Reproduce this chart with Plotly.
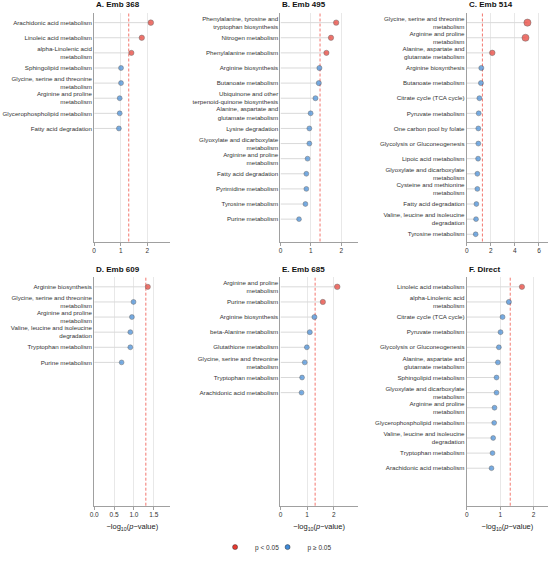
import textwrap
import plotly.graph_objects as go

# -log10(p) threshold for p = 0.05
THRESH = 1.3

a_title = "A. Emb 368"
a_names = ["Arachidonic acid metabolism", "Linoleic acid metabolism",
           "alpha-Linolenic acid metabolism", "Sphingolipid metabolism",
           "Glycine, serine and threonine metabolism", "Arginine and proline metabolism",
           "Glycerophospholipid metabolism", "Fatty acid degradation"]
a_vals = [2.13, 1.79, 1.40, 1.01, 1.01, 0.96, 0.96, 0.93]

b_title = "B. Emb 495"
b_names = ["Phenylalanine, tyrosine and tryptophan biosynthesis", "Nitrogen metabolism",
           "Phenylalanine metabolism", "Arginine biosynthesis", "Butanoate metabolism",
           "Ubiquinone and other terpenoid-quinone biosynthesis",
           "Alanine, aspartate and glutamate metabolism", "Lysine degradation",
           "Glyoxylate and dicarboxylate metabolism", "Arginine and proline metabolism",
           "Fatty acid degradation", "Pyrimidine metabolism", "Tyrosine metabolism",
           "Purine metabolism"]
b_vals = [1.83, 1.66, 1.51, 1.28, 1.26, 1.15, 0.99, 0.95, 0.95, 0.89, 0.85, 0.85, 0.82, 0.61]

c_title = "C. Emb 514"
c_names = ["Glycine, serine and threonine metabolism", "Arginine and proline metabolism",
           "Alanine, aspartate and glutamate metabolism", "Arginine biosynthesis",
           "Butanoate metabolism", "Citrate cycle (TCA cycle)", "Pyruvate metabolism",
           "One carbon pool by folate", "Glycolysis or Gluconeogenesis",
           "Lipoic acid metabolism", "Glyoxylate and dicarboxylate metabolism",
           "Cysteine and methionine metabolism", "Fatty acid degradation",
           "Valine, leucine and isoleucine degradation", "Tyrosine metabolism"]
c_vals = [5.04, 4.88, 2.12, 1.21, 1.18, 1.05, 0.99, 0.96, 0.96, 0.94, 0.88, 0.88, 0.80, 0.77, 0.74]

d_title = "D. Emb 609"
d_names = ["Arginine biosynthesis", "Glycine, serine and threonine metabolism",
           "Arginine and proline metabolism", "Valine, leucine and isoleucine degradation",
           "Tryptophan metabolism", "Purine metabolism"]
d_vals = [1.35, 0.99, 0.95, 0.91, 0.91, 0.69]

e_title = "E. Emb 685"
e_names = ["Arginine and proline metabolism", "Purine metabolism", "Arginine biosynthesis",
           "beta-Alanine metabolism", "Glutathione metabolism",
           "Glycine, serine and threonine metabolism", "Tryptophan metabolism",
           "Arachidonic acid metabolism"]
e_vals = [2.13, 1.59, 1.275, 1.10, 0.99, 0.91, 0.81, 0.79]

f_title = "F. Direct"
f_names = ["Linoleic acid metabolism", "alpha-Linolenic acid metabolism",
           "Citrate cycle (TCA cycle)", "Pyruvate metabolism", "Glycolysis or Gluconeogenesis",
           "Alanine, aspartate and glutamate metabolism", "Sphingolipid metabolism",
           "Glyoxylate and dicarboxylate metabolism", "Arginine and proline metabolism",
           "Glycerophospholipid metabolism", "Valine, leucine and isoleucine degradation",
           "Tryptophan metabolism", "Arachidonic acid metabolism"]
f_vals = [1.65, 1.26, 1.07, 1.01, 0.96, 0.93, 0.89, 0.89, 0.83, 0.82, 0.79, 0.77, 0.74]

legend_labels = ["p < 0.05", "p ≥ 0.05"]

panels = [(a_title, a_names, a_vals), (b_title, b_names, b_vals), (c_title, c_names, c_vals),
          (d_title, d_names, d_vals), (e_title, e_names, e_vals), (f_title, f_names, f_vals)]

# ---------------- styling / layout ----------------
W, H = 550, 562
FONT = "Liberation Sans, Arial, sans-serif"
RED = "#e8392f"
BLUE = "#3f8ad8"
EDGE = "#333333"
col_px = [(90, 167), (278, 356), (466, 548)]
row_px = [(13, 245), (281, 513)]
x_upper = [2.87, 2.54, 6.75, 1.92, 2.90, 2.43]
x_dtick = [1, 1, 2, 0.5, 1, 1]
x_fmt = ["d", "d", "d", ".1f", "d", "d"]
N_SLOTS = 15


def wrap(s):
    return "<br>".join(textwrap.wrap(s, width=30, break_on_hyphens=False))


def msize(v):
    return 4.4 + 0.55 * v


fig = go.Figure()
annotations = []
shapes = []
layout_axes = {}

for k, (title, names, vals) in enumerate(panels):
    r, c = divmod(k, 3)
    n = k + 1
    xa = "x" if n == 1 else f"x{n}"
    ya = "y" if n == 1 else f"y{n}"
    idx = list(range(len(names)))

    sx, sy = [], []
    for i, v in zip(idx, vals):
        sx += [0, v, None]
        sy += [i, i, None]
    fig.add_trace(go.Scatter(x=sx, y=sy, mode="lines", xaxis=xa, yaxis=ya,
                             line=dict(color="#d9d9d9", width=1), showlegend=False,
                             hoverinfo="skip"))
    fig.add_trace(go.Scatter(
        x=vals, y=idx, mode="markers", xaxis=xa, yaxis=ya, showlegend=False,
        marker=dict(color=[RED if v >= THRESH else BLUE for v in vals],
                    size=[msize(v) for v in vals],
                    line=dict(color=EDGE, width=0.5))))

    x0, x1 = col_px[c]
    ytop, ybot = row_px[r]
    xdom = [x0 / W, x1 / W]
    ydom = [1 - ybot / H, 1 - ytop / H]
    key_x = "xaxis" if n == 1 else f"xaxis{n}"
    key_y = "yaxis" if n == 1 else f"yaxis{n}"
    xax = dict(
        domain=xdom, anchor=ya, range=[0, x_upper[k]], dtick=x_dtick[k], tick0=0,
        tickformat=x_fmt[k], showgrid=True, gridcolor="#e8e8e8", gridwidth=0.8,
        zeroline=False, showline=True, linecolor="#a0a0a0", linewidth=1,
        ticks="outside", ticklen=3, tickcolor="#a0a0a0", tickwidth=0.8,
        tickfont=dict(size=6.5, color="#333333"))
    if r == 1:
        xax["title"] = dict(text="−log<sub>10</sub>(<i>p</i>−value)",
                            font=dict(size=7.5, color="#222222"), standoff=6)
    layout_axes[key_x] = xax
    layout_axes[key_y] = dict(
        domain=ydom, anchor=xa, range=[N_SLOTS - 1 + 0.48, -0.65],
        tickvals=idx, ticktext=[wrap(s) for s in names], showgrid=False,
        zeroline=False, showline=True, linecolor="#a0a0a0", linewidth=1,
        ticks="", tickfont=dict(size=6.2, color="#333333"))

    shapes.append(dict(type="line", xref=xa, yref=f"{ya} domain", x0=THRESH, x1=THRESH,
                       y0=0, y1=1, layer="below",
                       line=dict(color="rgba(240,85,75,0.8)", width=1, dash="3px,2px")))
    annotations.append(dict(text=f"<b>{title}</b>", xref="paper", yref="paper",
                            x=x0 / W, y=1 - (ytop - 1.5) / H, xanchor="left",
                            yanchor="bottom", showarrow=False,
                            font=dict(size=8, color="#111111")))

# legend: one entry per legend box so the two keys sit close together
legend_ids = ["legend", "legend2"]
for lab, col, lid in zip(legend_labels, [RED, BLUE], legend_ids):
    fig.add_trace(go.Scatter(x=[None], y=[None], mode="markers", name=lab, legend=lid,
                             marker=dict(color=col, size=5, line=dict(color=EDGE, width=0.5))))

leg_common = dict(orientation="h", xanchor="left", y=1 - 555 / H, yanchor="middle",
                  font=dict(size=6.5, color="#333333"), itemwidth=30,
                  bgcolor="rgba(0,0,0,0)")

fig.update_layout(
    width=W, height=H, margin=dict(l=0, r=0, t=0, b=0),
    paper_bgcolor="white", plot_bgcolor="white",
    font=dict(family=FONT, color="#333333"),
    shapes=shapes, annotations=annotations,
    legend=dict(x=(232 - 20) / W, **leg_common),
    legend2=dict(x=(285 - 20) / W, **leg_common),
    **layout_axes)

fig.write_html("out.html", config={"displayModeBar": False},
               post_script="document.body.style.margin='0px';"
                           "document.documentElement.style.overflow='hidden';")
